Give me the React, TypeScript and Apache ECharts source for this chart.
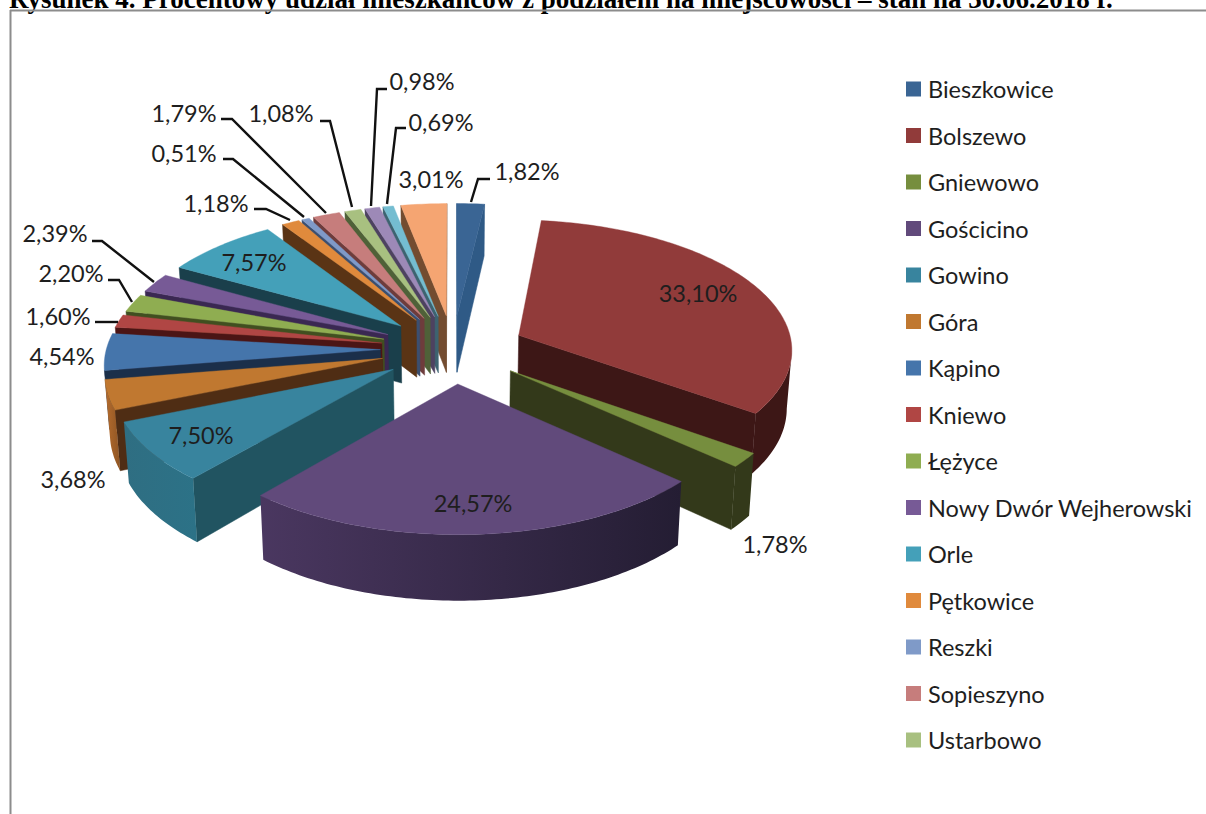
import React, { useEffect, useRef } from "react";
import * as echarts from "echarts";

const title = "Rysunek 4. Procentowy udział mieszkańców z podziałem na miejscowości – stan na 30.06.2018 r.";
// The reference legend is cut after 15 entries; the last three slices have no readable name.
const categories = ["Bieszkowice","Bolszewo","Gniewowo","Gościcino","Gowino","Góra","Kąpino","Kniewo","Łężyce","Nowy Dwór Wejherowski","Orle","Pętkowice","Reszki","Sopieszyno","Ustarbowo"];
const hiddenCategories = ["(16)","(17)","(18)"];
const values = [1.82,33.10,1.78,24.57,7.50,3.68,4.54,1.60,2.20,2.39,7.57,1.18,0.51,1.79,1.08,0.98,0.69,3.01];

const topColors = ["#3a6594","#913b3a","#768e3e","#614a7b","#38849e","#c07830","#4575ab","#b04644","#8fad51","#775a96","#44a0b9","#e08a3c","#7f9ac8","#c67d7c","#a8c080","#9d89b7","#74bdd1","#f5a572"];
const sideColors = ["#2f5a86","#3d1716","#33391a","#33283f","#215461","#4f2d14","#1b2f4a","#4b1515","#414f20","#3a2852","#1a3f4b","#5a3415","#3b4f70","#6e3c3c","#4f6138","#4d4260","#3d6370","#734c30"];
const rimLeft = ["#2f5a86","#3d1716","#33391a","#4a3760","#2f6e82","#b66d2e","#1b2f4a","#4b1515","#414f20","#3a2852","#1a3f4b","#5a3415","#3b4f70","#6e3c3c","#4f6138","#4d4260","#3d6370","#734c30"];
const rimRight = ["#2f5a86","#3d1716","#33391a","#241d33","#2c7287","#8f5523","#1b2f4a","#4b1515","#414f20","#3a2852","#1a3f4b","#5a3415","#3b4f70","#6e3c3c","#4f6138","#4d4260","#3d6370","#734c30"];

// Hand-placed label positions, in slice order: [label centre x, y, ...leader points]
const labelLayout: number[][] = [
  [527,171, 490,179, 478,179, 471,202],
  [698,293],
  [775,544],
  [473,503],
  [201,435],
  [73,479],
  [62,356],
  [58,316, 95,322, 118,322],
  [71,273, 108,280, 119,280, 132,302],
  [55,233, 92,241, 102,241, 154,282],
  [254,262],
  [216,203, 254,209, 266,209, 290,220],
  [184,153, 223,159, 233,159, 304,217],
  [184,113, 221,119, 232,119, 326,213],
  [281,113, 320,121, 330,121, 352,207],
  [422,81, 387,89, 377,89, 371,206],
  [441,122, 406,128, 396,128, 387,204],
  [431,179],
];

const CX = 453, CY = 349, A = 274, B = 129, P = 0.096, EXPLODE = 0.265, H = 58;
const FONT = "Lato";
const rad = (d: number) => (d * Math.PI) / 180;
const total = values.reduce((s, v) => s + v, 0);

function project(a: number, r: number, mid: number, depth: number): number[] {
  const X = r * Math.sin(rad(a)) + EXPLODE * Math.sin(rad(mid));
  const Y = r * Math.cos(rad(a)) + EXPLODE * Math.cos(rad(mid));
  const s = 1 / (1 + P * Y);
  return [CX + A * X * s * (1 - 0.015 * depth), CY - B * Y * s + H * s * depth];
}

const slices = (() => {
  let acc = 0;
  return values.map((v, i) => {
    const start = (acc / total) * 360;
    acc += v;
    const end = (acc / total) * 360;
    return { i, start, end, mid: (start + end) / 2 };
  });
})();

function buildChildren(sl: { i: number; start: number; end: number; mid: number }) {
  const { i, start, end, mid } = sl;
  const n = Math.max(2, Math.ceil(end - start));
  const angs: number[] = [];
  for (let k = 0; k <= n; k++) angs.push(start + ((end - start) * k) / n);
  const apexT = project(0, 0, mid, 0);
  const apexB = project(0, 0, mid, 1);
  const topRim = angs.map((a) => project(a, 1, mid, 0));
  const botRim = angs.map((a) => project(a, 1, mid, 1));
  const children: any[] = [];

  // radial side faces: only the ones whose top edge has the slice above it
  const face = (q: number[], qb: number[], other: number[]) => {
    const dx = q[0] - apexT[0], dy = q[1] - apexT[1];
    const c = dx * (other[1] - apexT[1]) - dy * (other[0] - apexT[0]);
    const d = dx; // cross with (0,1)
    if (c * d >= 0) return;
    children.push({ type: "polygon", shape: { points: [apexT, q, qb, apexB] }, style: { fill: sideColors[i], stroke: sideColors[i], lineWidth: 0.5 } });
  };
  const last = topRim.length - 1;
  face(topRim[0], botRim[0], topRim[last]);
  face(topRim[last], botRim[last], topRim[0]);

  // outer wall: the part where the rim runs right-to-left on screen faces the viewer
  const vis: number[] = [];
  for (let k = 0; k <= n; k++) {
    const a = angs[k];
    if (project(a + 0.25, 1, mid, 0)[0] < project(a - 0.25, 1, mid, 0)[0]) vis.push(k);
  }
  if (vis.length > 1) {
    const pts = vis.map((k) => topRim[k]).concat(vis.slice().reverse().map((k) => botRim[k]));
    const fill = new echarts.graphic.LinearGradient(0, 0, 1, 0, [
      { offset: 0, color: rimLeft[i] },
      { offset: 1, color: rimRight[i] },
    ]);
    children.push({ type: "polygon", shape: { points: pts }, style: { fill } });
  }

  // top face
  children.push({ type: "polygon", shape: { points: [apexT, ...topRim] }, style: { fill: topColors[i], stroke: topColors[i], lineWidth: 0.4 } });
  return children;
}

const allNames = [...categories, ...hiddenCategories];
const pct = (v: number) => v.toFixed(2).replace(".", ",") + "%";

export default function App() {
  const ref = useRef<HTMLDivElement>(null);
  useEffect(() => {
    document.body.style.margin = "0";
    document.body.style.background = "#fff";
    const chart = echarts.init(ref.current!, undefined, { renderer: "svg" });
    const order = slices.slice().sort((a, b) => Math.cos(rad(b.mid)) - Math.cos(rad(a.mid)));
    const series = order.map((sl) => ({
      type: "custom",
      name: allNames[sl.i],
      coordinateSystem: "none",
      silent: true,
      itemStyle: { color: topColors[sl.i] },
      data: [{ name: allNames[sl.i], value: values[sl.i] }],
      renderItem: () => ({ type: "group", children: buildChildren(sl) }),
    }));
    const labels: any[] = [];
    values.forEach((v, i) => {
      const l = labelLayout[i];
      labels.push({
        type: "text", z: 50, x: l[0], y: l[1],
        style: { text: pct(v), font: `23.5px ${FONT}`, fill: "#1e1e1e", textAlign: "center", textVerticalAlign: "middle" },
      });
      if (l.length > 2) {
        const pts: number[][] = [];
        for (let k = 2; k < l.length; k += 2) pts.push([l[k], l[k + 1]]);
        labels.push({ type: "polyline", z: 49, shape: { points: pts }, style: { stroke: "#111", lineWidth: 2.4, fill: "none" } });
      }
    });
    chart.setOption({
      animation: false,
      backgroundColor: "#fff",
      legend: {
        orient: "vertical",
        left: 906,
        top: 77,
        selectedMode: false,
        data: categories,
        icon: "rect",
        itemWidth: 15,
        itemHeight: 15,
        itemGap: 22.5,
        textStyle: { fontFamily: FONT, fontSize: 23.5, color: "#1e1e1e", padding: [0, 0, 0, 2], lineHeight: 24 },
        padding: 0,
      },
      series,
      graphic: [
        { type: "text", z: 60, x: 9, y: -1, style: { text: title, font: "bold 27px 'Liberation Serif'", fill: "#000", textVerticalAlign: "middle" } },
        { type: "line", z: 61, shape: { x1: 10, y1: 10.5, x2: 1206, y2: 10.5 }, style: { stroke: "#8c8c8c", lineWidth: 2 } },
        { type: "line", z: 61, shape: { x1: 10.5, y1: 10, x2: 10.5, y2: 814 }, style: { stroke: "#8c8c8c", lineWidth: 2 } },
        ...labels,
      ],
    });
    return () => chart.dispose();
  }, []);
  return <div ref={ref} style={{ position: "fixed", left: 0, top: 0, width: 1206, height: 814 }} />;
}
